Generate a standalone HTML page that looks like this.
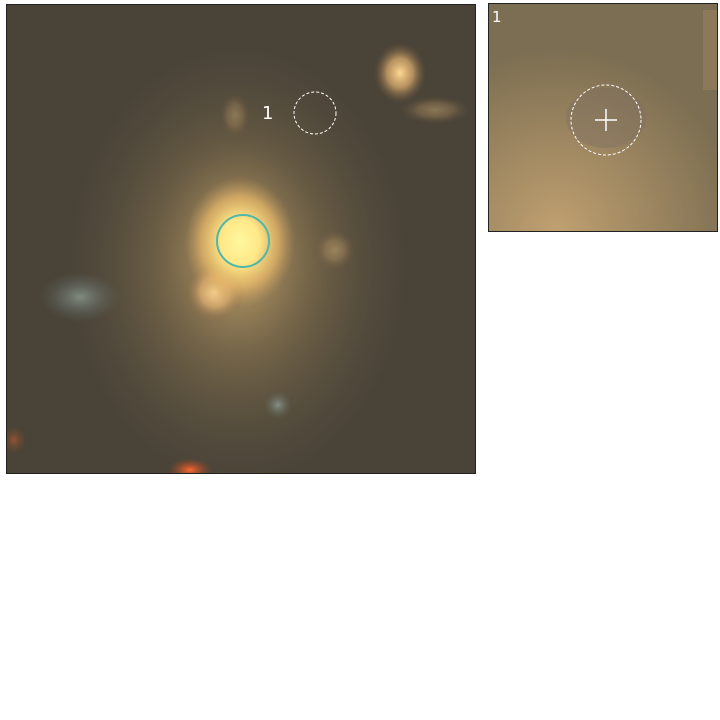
<!DOCTYPE html>
<html><head><meta charset="utf-8"><style>
body{margin:0;background:#fff;width:720px;height:720px;overflow:hidden}
svg{position:absolute;left:0;top:0}
</style></head><body>
<svg width="720" height="720" font-family="'DejaVu Sans','Liberation Sans',sans-serif">
<defs>
<radialGradient id="halo" cx="0.5" cy="0.5" r="0.5">
<stop offset="0" stop-color="#d8b478" stop-opacity="0.9"/>
<stop offset="0.4" stop-color="#a88c5c" stop-opacity="0.55"/>
<stop offset="1" stop-color="#6a5e48" stop-opacity="0"/>
</radialGradient>
<radialGradient id="core" cx="0.5" cy="0.5" r="0.5">
<stop offset="0" stop-color="#fff8a0"/>
<stop offset="0.35" stop-color="#ffe888"/>
<stop offset="0.7" stop-color="#e8b868" stop-opacity="0.7"/>
<stop offset="1" stop-color="#c09860" stop-opacity="0"/>
</radialGradient>
<radialGradient id="src" cx="0.5" cy="0.5" r="0.5">
<stop offset="0" stop-color="#ffd890"/>
<stop offset="0.5" stop-color="#e0b070" stop-opacity="0.7"/>
<stop offset="1" stop-color="#806040" stop-opacity="0"/>
</radialGradient>
<radialGradient id="blue" cx="0.5" cy="0.5" r="0.5">
<stop offset="0" stop-color="#9aa8a0" stop-opacity="0.7"/>
<stop offset="1" stop-color="#607070" stop-opacity="0"/>
</radialGradient>
<radialGradient id="red" cx="0.5" cy="0.5" r="0.5">
<stop offset="0" stop-color="#ff6a30"/>
<stop offset="1" stop-color="#a04020" stop-opacity="0"/>
</radialGradient>
<radialGradient id="insetg" cx="0.3" cy="1" r="0.8">
<stop offset="0" stop-color="#c0a070"/>
<stop offset="1" stop-color="#7c6e52"/>
</radialGradient>
<clipPath id="mainclip"><rect x="6" y="4" width="469" height="469"/></clipPath>
</defs>
<g clip-path="url(#mainclip)">
<rect x="6" y="4" width="469" height="469" fill="#4a4438"/>
<ellipse cx="238" cy="265" rx="170" ry="220" fill="url(#halo)" opacity="0.85"/>
<ellipse cx="238" cy="250" rx="85" ry="115" fill="url(#halo)"/>
<ellipse cx="215" cy="292" rx="30" ry="30" fill="url(#src)"/>
<ellipse cx="240" cy="242" rx="55" ry="65" fill="url(#core)"/>
<ellipse cx="400" cy="73" rx="26" ry="30" fill="url(#src)"/>
<ellipse cx="435" cy="110" rx="35" ry="14" fill="url(#src)" opacity="0.35"/>
<ellipse cx="80" cy="297" rx="40" ry="25" fill="url(#blue)"/>
<ellipse cx="335" cy="250" rx="20" ry="20" fill="url(#src)" opacity="0.35"/>
<ellipse cx="278" cy="405" rx="14" ry="14" fill="url(#blue)"/>
<ellipse cx="190" cy="470" rx="22" ry="12" fill="url(#red)"/>
<ellipse cx="235" cy="115" rx="15" ry="22" fill="url(#src)" opacity="0.3"/>
<ellipse cx="14" cy="440" rx="12" ry="14" fill="url(#red)" opacity="0.4"/>
</g>
<rect x="6.5" y="4.5" width="469" height="469" fill="none" stroke="#222"/>
<circle cx="243" cy="241" r="26" fill="none" stroke="#4fb8a8" stroke-width="2"/>
<circle cx="315" cy="113" r="21" fill="none" stroke="#fff" stroke-width="1" stroke-dasharray="3,2"/>
<text x="262" y="119" fill="#fff" font-size="18">1</text>
<g>
<rect x="488" y="3" width="229" height="228" fill="url(#insetg)"/>
<ellipse cx="606" cy="118" rx="40" ry="30" fill="#7c6e62" opacity="0.4"/>
<rect x="703" y="10" width="14" height="80" fill="#a89068" opacity="0.35"/>
<rect x="488.5" y="3.5" width="229" height="228" fill="none" stroke="#222"/>
</g>
<circle cx="606" cy="120" r="35" fill="none" stroke="#fff" stroke-width="1" stroke-dasharray="3,2"/>
<path d="M595 120H617M606 109V131" stroke="#fff" stroke-width="1.5"/>
<text x="492" y="22" fill="#fff" font-size="15">1</text>
</svg>
</body></html>
